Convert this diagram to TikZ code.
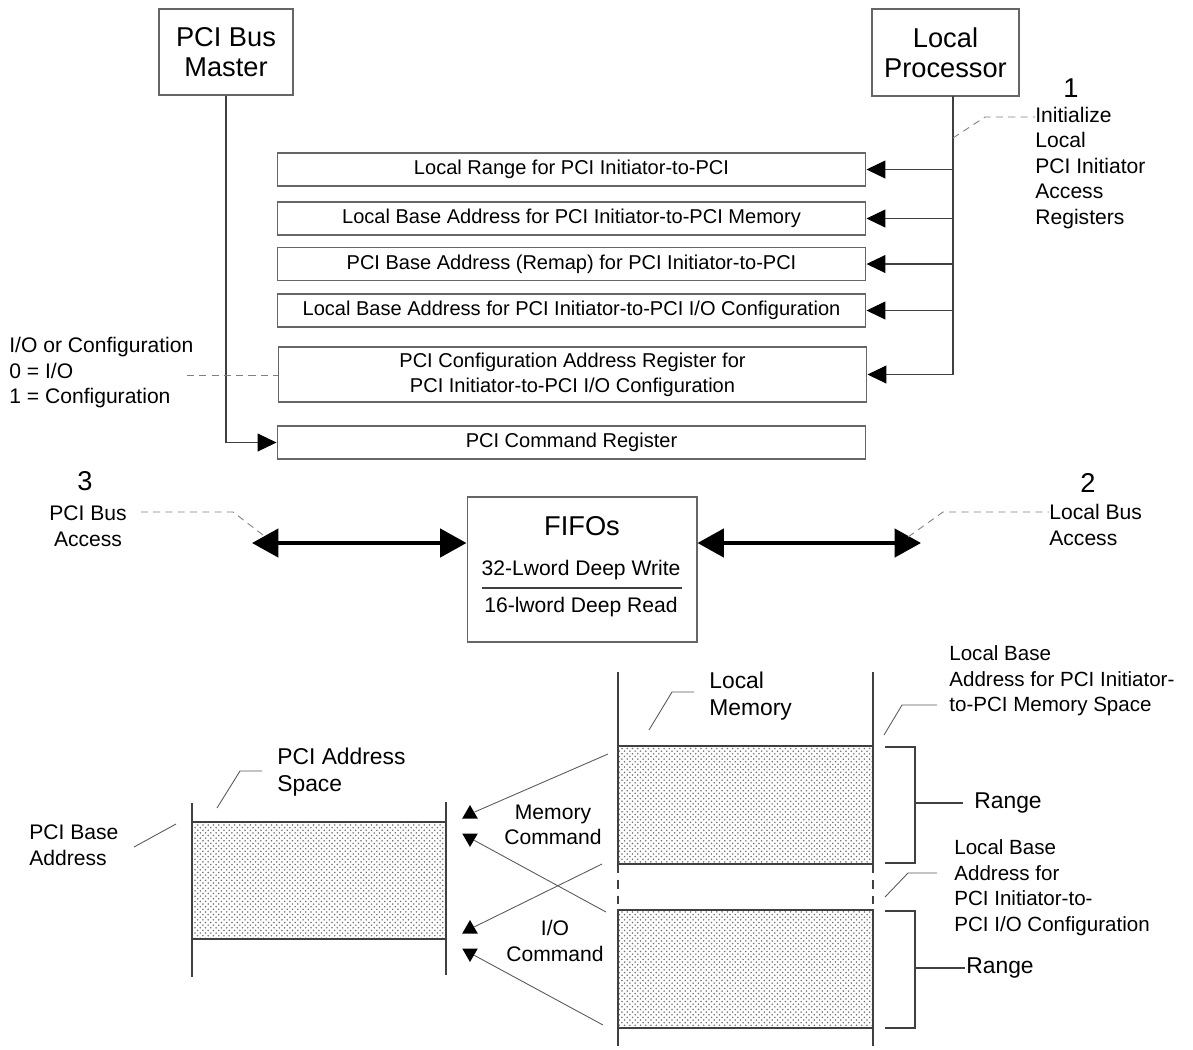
\documentclass[tikz,border=0pt]{standalone}
\usepackage{fontspec}
\setmainfont{Liberation Sans}
\usepackage{tikz}
\usetikzlibrary{arrows.meta,positioning,shapes.geometric,patterns,calc}

\begin{document}
\begin{tikzpicture}[x=0.02cm,y=-0.02cm,
  wire/.style={draw=black!75,line width=0.6pt},
  reg/.style={draw=black!60,line width=0.6pt,minimum width=11.78cm,minimum height=0.66cm,inner sep=0pt,font=\fontsize{11.4}{14.2}\selectfont,align=center},
  bigbox/.style={draw=black!60,line width=0.6pt,inner sep=0pt,font=\fontsize{15.5}{17}\selectfont,align=center},
  lbl/.style={inner sep=0pt,font=\fontsize{12}{14.5}\selectfont,align=left,anchor=west},
  biglbl/.style={lbl,font=\fontsize{13}{15.3}\selectfont},
  num/.style={inner sep=0pt,font=\fontsize{15.5}{17}\selectfont},
  regtip/.style={wire,-{Triangle[length=10.8pt,width=10.2pt,color=black,fill=black]}},
  busarrow/.style={line width=2.3pt,{Triangle[length=15pt,width=16pt]}-{Triangle[length=15pt,width=16pt]}},
  leader/.style={draw=gray,line width=0.5pt,dash pattern=on 4pt off 3pt},
  thinlead/.style={draw=black!65,line width=0.5pt},
  memfill/.style={pattern=crosshatch dots,pattern color=black!55},
  tri/.style={regular polygon,regular polygon sides=3,fill=black,inner sep=0pt,minimum size=0.36cm},
  tridown/.style={tri,shape border rotate=180}]
  \useasboundingbox (0,0) rectangle (1193,1049);

  % masters
  \node[bigbox,minimum width=2.68cm,minimum height=1.72cm] (master) at (226,52) {PCI Bus\\Master};
  \node[bigbox,minimum width=2.94cm,minimum height=1.74cm] (lproc) at (945.5,52.5) {Local\\Processor};

  % registers
  \node[reg] (rrange) at (571.5,169.5) {Local Range for PCI Initiator-to-PCI};
  \node[reg] (rlbmem) at (571.5,218.5) {Local Base Address for PCI Initiator-to-PCI Memory};
  \node[reg] (rremap) at (571.5,264) {PCI Base Address (Remap) for PCI Initiator-to-PCI};
  \node[reg] (rlbio) at (571.5,310.5) {Local Base Address for PCI Initiator-to-PCI I/O Configuration};
  \node[reg,minimum height=1.1cm] (rcfg) at (572.5,374.5) {PCI Configuration Address Register for\\PCI Initiator-to-PCI I/O Configuration};
  \node[reg] (rcmd) at (571.5,442.5) {PCI Command Register};

  % local processor bus
  \coordinate (bustop) at (953,96);
  \coordinate (busend) at (953,374.5);
  \draw[wire] (bustop) -- (busend);
  \draw[regtip] (bustop |- rrange.east) -- (rrange.east);
  \draw[regtip] (bustop |- rlbmem.east) -- (rlbmem.east);
  \draw[regtip] (bustop |- rremap.east) -- (rremap.east);
  \draw[regtip] (bustop |- rlbio.east) -- (rlbio.east);
  \draw[regtip] (bustop |- rcfg.east) -- (rcfg.east);
  \draw[regtip] (master.south) |- (rcmd.west);

  % step 1
  \node[num] (one) at (1071,88) {1};
  \node[lbl] (initl) at (1035,168) {Initialize\\Local\\PCI Initiator\\Access\\Registers};
  \coordinate (init1) at (953,138);
  \coordinate (init2) at (985,117);
  \draw[leader] (init1) -- (init2) -- (init2 -| initl.west);

  % I/O or configuration bit
  \node[lbl] (iocfg) at (9,373) {I/O or Configuration\\0 = I/O\\1 = Configuration};
  \coordinate (iocfgend) at (187,375);
  \draw[leader] (iocfgend) -- (iocfgend -| rcfg.west);

  % FIFOs
  \node[draw=black!60,line width=0.6pt,minimum width=4.6cm,minimum height=2.9cm] (fifo) at (582,569.5) {};
  \node[num] (fifot) at (582,526) {FIFOs};
  \node[lbl,anchor=center] (fifow) at (581,570) {32-Lword Deep Write};
  \node[lbl,anchor=center] (fifor) at (581,607) {16-lword Deep Read};
  \draw[wire] (482,588) -- (682,588);

  \coordinate (pcibus) at (252,543);
  \coordinate (localbus) at (921,543);
  \draw[busarrow] (pcibus) -- (pcibus -| fifo.west);
  \draw[busarrow] (localbus -| fifo.east) -- (localbus);

  % step 3
  \node[num] (three) at (85,481) {3};
  \node[lbl,anchor=center,align=center] (pcil) at (88,526) {PCI Bus\\Access};
  \coordinate (pcil1) at (263,535);
  \coordinate (pcil2) at (233,512);
  \draw[leader] (pcil1) -- (pcil2) -- (138,512);

  % step 2
  \node[num] (two) at (1088,483) {2};
  \node[lbl] (locl) at (1049,525) {Local Bus\\Access};
  \coordinate (locl1) at (908,537);
  \coordinate (locl2) at (943,512);
  \draw[leader] (locl1) -- (locl2) -- (locl2 -| locl.west);

  % PCI address space
  \draw[wire] (192,803) -- (192,977);
  \draw[wire] (446,802) -- (446,975);
  \draw[wire,memfill] (192,822) rectangle (446,939);
  \node[biglbl] (pcias) at (277,772) {PCI Address\\Space};
  \draw[thinlead] (217,808) -- (240,771) -- (262,771);
  \node[lbl] (pcibase) at (29,845) {PCI Base\\Address};
  \draw[thinlead] (134,847) -- (176,824);

  % local memory
  \draw[wire] (618,672) -- (618,864);
  \draw[wire,dash pattern=on 5pt off 4pt] (618,864) -- (618,910);
  \draw[wire] (618,910) -- (618,1046);
  \draw[wire] (873,672) -- (873,864);
  \draw[wire,dash pattern=on 5pt off 4pt] (873,864) -- (873,910);
  \draw[wire] (873,910) -- (873,1046);
  \draw[wire,memfill] (618,746) rectangle (873,864);
  \draw[wire,memfill] (618,910) rectangle (873,1028);
  \node[biglbl] (lmem) at (709,696) {Local\\Memory};
  \draw[thinlead] (649,730) -- (672,692) -- (694,692);

  % commands
  \node[tri] (memup) at (470,814) {};
  \node[tridown] (memdn) at (470,838) {};
  \node[tri] (ioup) at (470,929) {};
  \node[tridown] (iodn) at (470,953) {};
  \node[lbl,anchor=center,align=center] (memcmd) at (553,825) {Memory\\Command};
  \node[lbl,anchor=center,align=center] (iocmd) at (555,941) {I/O\\Command};
  \coordinate (mema) at (608,754);
  \coordinate (memb) at (606,912);
  \coordinate (ioa) at (602,864);
  \coordinate (iob) at (603,1025);
  \draw[thinlead] (mema) -- (memup);
  \draw[thinlead] (memb) -- (memdn);
  \draw[thinlead] (ioa) -- (ioup);
  \draw[thinlead] (iob) -- (iodn);

  % ranges
  \draw[wire] (885,747) -- (915,747) -- (915,863) -- (885,863);
  \draw[wire] (915,803) -- (963,803);
  \node[biglbl] (range1) at (974,803) {Range};
  \draw[wire] (885,911) -- (915,911) -- (915,1028) -- (885,1028);
  \draw[wire] (915,968) -- (965,968);
  \node[biglbl] (range2) at (966,968) {Range};

  \node[lbl,font=\fontsize{11.7}{14.5}\selectfont] (lbmem) at (949,681) {Local Base\\Address for PCI Initiator-\\to-PCI Memory Space};
  \draw[thinlead] (884,735) -- (902,705) -- (937,705);
  \node[lbl,font=\fontsize{11.7}{14.5}\selectfont] (lbio) at (954,887.5) {Local Base\\Address for\\PCI Initiator-to-\\PCI I/O Configuration};
  \draw[thinlead] (885,897) -- (908,873) -- (937,873);
\end{tikzpicture}
\end{document}
